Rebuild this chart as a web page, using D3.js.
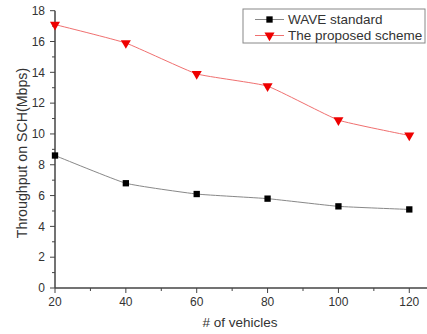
<!DOCTYPE html>
<html><head><meta charset="utf-8">
<script src="https://cdn.jsdelivr.net/npm/d3@7/dist/d3.min.js"></script>
<style>body{margin:0;background:#fff}svg{display:block;font-family:"Liberation Sans",Arial,sans-serif}</style>
</head><body>
<script>
const vehicles = [20, 40, 60, 80, 100, 120];
const waveStandard = [8.6, 6.8, 6.1, 5.8, 5.3, 5.1];
const proposedScheme = [17.1, 15.9, 13.9, 13.1, 10.9, 9.9];
const xTicks = [20, 40, 60, 80, 100, 120];
const yTicks = [0, 2, 4, 6, 8, 10, 12, 14, 16, 18];
const seriesNames = ["WAVE standard", "The proposed scheme"];

const W = 427, H = 334;
const svg = d3.select("body").append("svg").attr("width", W).attr("height", H);
const x = d3.scaleLinear().domain([20, 125]).range([55, 427]);
const y = d3.scaleLinear().domain([0, 18]).range([288, 10.7]);
const axisColor = "#444";

// x axis
const gx = svg.append("g").attr("transform", `translate(0,${y(0)})`);
gx.append("line").attr("x1", x(20)).attr("x2", W).attr("stroke", axisColor).attr("stroke-width", 1.5);
gx.selectAll(".minor").data(d3.range(30, 125, 20)).join("line")
  .attr("x1", d => x(d)).attr("x2", d => x(d)).attr("y1", 0).attr("y2", 3).attr("stroke", axisColor);
gx.selectAll(".major").data(xTicks).join("line")
  .attr("x1", d => x(d)).attr("x2", d => x(d)).attr("y1", 0).attr("y2", 5).attr("stroke", axisColor);
gx.selectAll("text").data(xTicks).join("text")
  .attr("x", d => x(d)).attr("y", 18).attr("text-anchor", "middle")
  .attr("font-size", 12).attr("fill", "#333").text(d => d);

// y axis
const gy = svg.append("g").attr("transform", `translate(${x(20)},0)`);
gy.append("line").attr("y1", y(0)).attr("y2", y(18)).attr("stroke", axisColor).attr("stroke-width", 1.5);
gy.selectAll(".minor").data(d3.range(1, 18, 2)).join("line")
  .attr("y1", d => y(d)).attr("y2", d => y(d)).attr("x1", 0).attr("x2", -3).attr("stroke", axisColor);
gy.selectAll(".major").data(yTicks).join("line")
  .attr("y1", d => y(d)).attr("y2", d => y(d)).attr("x1", 0).attr("x2", -5).attr("stroke", axisColor);
gy.selectAll("text").data(yTicks).join("text")
  .attr("x", -10).attr("y", d => y(d)).attr("dy", "0.35em").attr("text-anchor", "end")
  .attr("font-size", 12).attr("fill", "#333").text(d => d);

// labels
svg.append("text").attr("x", 240).attr("y", 327).attr("text-anchor", "middle")
  .attr("font-size", 13.5).attr("fill", "#333").text("# of vehicles");
svg.append("text").attr("transform", `translate(27,153) rotate(-90)`)
  .attr("text-anchor", "middle").attr("font-size", 14.2).attr("fill", "#333").text("Throughput on SCH(Mbps)");

const line = d3.line().x(d => x(d[0])).y(d => y(d[1])).curve(d3.curveCardinal.tension(0.6));
const s1 = vehicles.map((v, i) => [v, waveStandard[i]]);
const s2 = vehicles.map((v, i) => [v, proposedScheme[i]]);

svg.append("path").attr("d", line(s1)).attr("fill", "none").attr("stroke", "#888").attr("stroke-width", 1);
svg.append("path").attr("d", line(s2)).attr("fill", "none").attr("stroke", "#f07070").attr("stroke-width", 1);

const sq = d3.symbol().type(d3.symbolSquare).size(40);
const tri = d3.symbol().type(d3.symbolTriangle).size(44);
svg.selectAll(".p1").data(s1).join("path")
  .attr("transform", d => `translate(${x(d[0])},${y(d[1])})`).attr("d", sq).attr("fill", "#000");
svg.selectAll(".p2").data(s2).join("path")
  .attr("transform", d => `translate(${x(d[0])},${y(d[1])}) rotate(180)`).attr("d", tri).attr("fill", "#e00");

// legend
const lg = svg.append("g");
lg.append("rect").attr("x", 243).attr("y", 9).attr("width", 182).attr("height", 34)
  .attr("fill", "#fff").attr("stroke", "#888").attr("stroke-width", 1);
[0, 1].forEach(i => {
  const yy = 19.5 + i * 16;
  lg.append("line").attr("x1", 255).attr("x2", 284).attr("y1", yy).attr("y2", yy)
    .attr("stroke", i ? "#f07070" : "#888");
  lg.append("path").attr("transform", `translate(269.5,${yy})${i ? " rotate(180)" : ""}`)
    .attr("d", i ? tri : sq).attr("fill", i ? "#e00" : "#000");
  lg.append("text").attr("x", 288).attr("y", yy).attr("dy", "0.35em")
    .attr("font-size", 13.5).attr("fill", "#333").text(seriesNames[i]);
});
</script>
</body></html>
